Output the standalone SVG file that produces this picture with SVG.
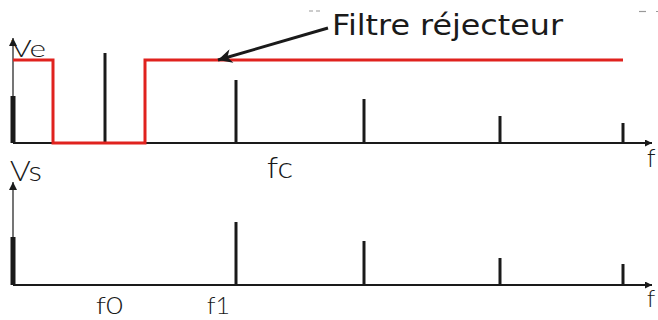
<svg xmlns="http://www.w3.org/2000/svg" width="658" height="320" viewBox="0 0 658 320">
<style>
.lbl{font-family:"Lato","DejaVu Sans",sans-serif;fill:#1a1a1a;font-weight:300}
.axis{stroke:#1a1a1a;fill:none}
.spk{stroke:#1a1a1a;stroke-width:3;fill:none}
.bar{stroke:#1a1a1a;stroke-width:5;fill:none}
</style>
<defs>
<marker id="ah" viewBox="0 0 10 10" refX="10" refY="5" markerWidth="8" markerHeight="8" markerUnits="userSpaceOnUse" orient="auto"><path d="M0,0 L10,5 L0,10 z" fill="#1a1a1a"/></marker>
<marker id="ahx" viewBox="0 0 10 10" refX="10" refY="5" markerWidth="9" markerHeight="7" markerUnits="userSpaceOnUse" orient="auto"><path d="M0,0 L10,5 L0,10 z" fill="#1a1a1a"/></marker>
<marker id="big" viewBox="0 0 10 10" refX="10" refY="5" markerWidth="18" markerHeight="14" markerUnits="userSpaceOnUse" orient="auto"><path d="M0,0 L10,5 L0,10 L3,5 z" fill="#1a1a1a"/></marker>
</defs>
<g id="artefacts" stroke="#999" stroke-width="1.2">
<line x1="309" y1="11" x2="322" y2="11" stroke-dasharray="4 3"/>
<line x1="639" y1="11.5" x2="646" y2="11.5"/>
<line x1="656" y1="11.5" x2="658" y2="11.5"/>
</g>
<g id="top-plot">
<line class="axis" x1="13" y1="143" x2="13" y2="38" stroke-width="1.2" marker-end="url(#ah)"/>
<line class="axis" x1="13" y1="143" x2="652" y2="143" stroke-width="2" marker-end="url(#ahx)"/>
<line class="bar" x1="13" y1="96" x2="13" y2="143"/>
<line class="spk" x1="105" y1="53" x2="105" y2="143"/>
<line class="spk" x1="236" y1="80" x2="236" y2="143"/>
<line class="spk" x1="364" y1="99" x2="364" y2="143"/>
<line class="spk" x1="500" y1="116" x2="500" y2="143"/>
<line class="spk" x1="623" y1="123" x2="623" y2="143"/>
<text class="lbl" x="11" y="57" font-size="24" textLength="35" lengthAdjust="spacingAndGlyphs">Ve</text>
<text class="lbl" x="647" y="167" font-size="25">f</text>
</g>
<g id="filter">
<polyline points="13,60 53,60 53,143 145,143 145,60 623,60" fill="none" stroke="#e0221e" stroke-width="3"/>
</g>
<g id="label-filtre">
<text x="332" y="35" font-family="'Comic Sans MS','DejaVu Sans',sans-serif" font-size="29" fill="#1a1a1a" textLength="231" lengthAdjust="spacingAndGlyphs">Filtre réjecteur</text>
</g>
<g id="connectors">
<line x1="328" y1="28" x2="218" y2="60" stroke="#1a1a1a" stroke-width="3" marker-end="url(#big)"/>
</g>
<g id="bottom-plot">
<line class="axis" x1="13" y1="285" x2="13" y2="182" stroke-width="1.2" marker-end="url(#ah)"/>
<line class="axis" x1="13" y1="285" x2="652" y2="285" stroke-width="1.8" stroke="#555" marker-end="url(#ahx)"/>
<line class="bar" x1="13" y1="237" x2="13" y2="285"/>
<line class="spk" x1="236" y1="222" x2="236" y2="285"/>
<line class="spk" x1="364" y1="241" x2="364" y2="285"/>
<line class="spk" x1="500" y1="258" x2="500" y2="285"/>
<line class="spk" x1="623" y1="264" x2="623" y2="285"/>
<text class="lbl" x="10" y="181" font-size="28" textLength="32" lengthAdjust="spacingAndGlyphs">Vs</text>
<text class="lbl" x="267" y="178" font-size="30" textLength="26" lengthAdjust="spacingAndGlyphs">fc</text>
<text class="lbl" x="96" y="314" font-size="24" textLength="27" lengthAdjust="spacingAndGlyphs">f0</text>
<text class="lbl" x="207" y="314" font-size="24" textLength="23" lengthAdjust="spacingAndGlyphs">f1</text>
<text class="lbl" x="647" y="307" font-size="24">f</text>
</g>
</svg>
